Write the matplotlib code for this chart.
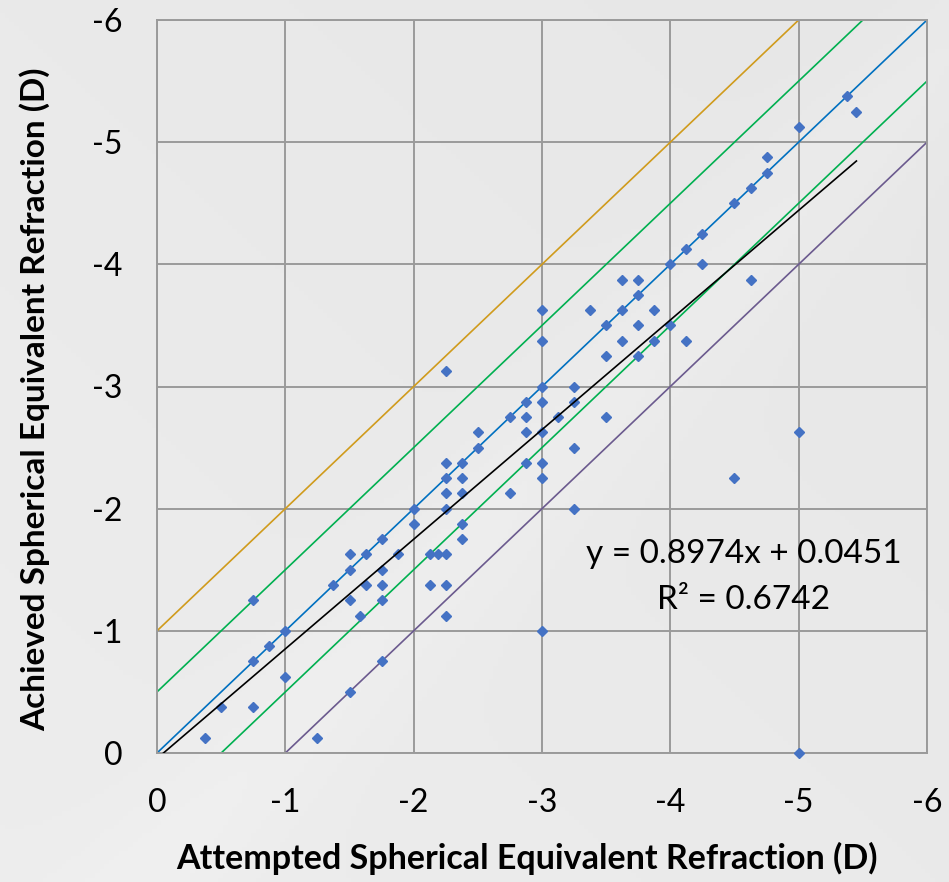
import numpy as np
import matplotlib
matplotlib.use("Agg")
import matplotlib.pyplot as plt
from matplotlib.ticker import FixedLocator, FixedFormatter

plt.rcParams['font.family'] = ['Lato', 'DejaVu Sans']
plt.rcParams['axes.unicode_minus'] = False

# ---- data ----
attempted = [-0.375, -0.5, -0.75, -0.75, -0.75, -0.875, -1, -1, -1.25, -1.5,
             -1.75, -2, -2, -1.75, -1.5, -1.625, -1.875, -1.5, -1.375, -1.625,
             -1.75, -1.75, -1.5, -1.75, -1.58, -2.125, -2.1875, -2.25, -2.125, -2.25,
             -2.25, -2.375, -2.375, -2.25, -2.25, -2.375, -2.25, -2.375, -2.25, -2.375,
             -2.25, -2.5, -2.5, -2.75, -2.75, -2.875, -2.875, -2.875, -2.875, -3,
             -3, -3, -3, -3, -3, -3, -3, -3.125, -3.25, -3.25,
             -3.25, -3.25, -3.375, -3.5, -3.5, -3.5, -3.625, -3.625, -3.625, -3.75,
             -3.75, -3.75, -3.75, -3.875, -3.875, -4, -4, -4.125, -4.125, -4.25,
             -4.25, -4.5, -4.625, -4.75, -4.75, -4.625, -5, -5.375, -5.45, -5,
             -4.5, -5]
achieved = [-0.125, -0.375, -0.375, -0.75, -1.25, -0.875, -1, -0.625, -0.125, -0.5,
            -0.75, -2, -1.875, -1.75, -1.625, -1.625, -1.625, -1.5, -1.375, -1.375,
            -1.375, -1.5, -1.25, -1.25, -1.125, -1.625, -1.625, -1.625, -1.375, -1.375,
            -1.125, -1.875, -1.75, -2, -2.125, -2.125, -2.25, -2.25, -2.375, -2.375,
            -3.125, -2.5, -2.625, -2.75, -2.125, -2.875, -2.75, -2.625, -2.375, -3,
            -2.875, -2.625, -2.375, -2.25, -3.375, -3.625, -1, -2.75, -3, -2.875,
            -2.5, -2, -3.625, -3.5, -3.25, -2.75, -3.875, -3.625, -3.375, -3.875,
            -3.75, -3.5, -3.25, -3.625, -3.375, -4, -3.5, -3.375, -4.125, -4.25,
            -4, -4.5, -4.625, -4.75, -4.875, -3.875, -5.125, -5.375, -5.25, -2.625,
            -2.25, 0]

# reference lines: achieved = attempted + offset
ref_offsets = [-1.0, -0.5, 0.0, 0.5, 1.0]
ref_colors = ['#D09B1C', '#00B050', '#0070C0', '#00B050', '#6B5A8E']

# trendline
slope = 0.8974
intercept = 0.0451
trend_x_range = [0.0, -5.45]
eq_text = "y = 0.8974x + 0.0451"
r2_text = "R\u00b2 = 0.6742"

ticks = [0, -1, -2, -3, -4, -5, -6]
tick_labels = ['0', '-1', '-2', '-3', '-4', '-5', '-6']
xlabel = "Attempted Spherical Equivalent Refraction (D)"
ylabel = "Achieved Spherical Equivalent Refraction (D)"

# ---- figure ----
W, H = 949, 882
fig = plt.figure(figsize=(W / 100, H / 100), dpi=100)
fig.patch.set_facecolor('#E9E9E9')

# subtle background gradient
bg = fig.add_axes([0, 0, 1, 1], zorder=-10)
gx, gy = np.meshgrid(np.linspace(0, 1, 200), np.linspace(0, 1, 200))
grad = 0.5 * gx + 0.5 * (1 - gy)
band = np.exp(-((gx - (1 - gy) * 0.9 - 0.15) ** 2) / 0.01) * 0.6
val = 0.905 + 0.025 * (1 - grad) + 0.02 * band
img = np.dstack([val, val, val])
bg.imshow(img, extent=[0, 1, 0, 1], aspect='auto', origin='upper')
bg.axis('off')

ax = fig.add_axes([157 / W, 1 - 753 / H, (927 - 157) / W, (753 - 20) / H])
ax.set_facecolor('none')

ax.set_xlim(0, -6)
ax.set_ylim(0, -6)

xs = np.array([0.0, -6.0])
for off, col in zip(ref_offsets, ref_colors):
    ax.plot(xs, xs + off, color=col, lw=1.2, zorder=2, clip_on=True)

ax.plot(attempted, achieved, linestyle='none', marker='D', ms=4.6,
        color='#4472C4', mec='#4472C4', zorder=3, clip_on=False)

tx = np.array(trend_x_range)
ax.plot(tx, slope * tx + intercept, color='black', lw=1.2, zorder=4)

ax.xaxis.set_major_locator(FixedLocator(ticks))
ax.xaxis.set_major_formatter(FixedFormatter(tick_labels))
ax.yaxis.set_major_locator(FixedLocator(ticks))
ax.yaxis.set_major_formatter(FixedFormatter(tick_labels))
ax.tick_params(axis='both', length=0, labelsize=23, colors='black')
ax.tick_params(axis='x', pad=25)
ax.tick_params(axis='y', pad=25)

ax.grid(True, color='#9A9A9A', lw=1.4, zorder=1)
ax.set_axisbelow(True)
for s in ax.spines.values():
    s.set_color('#9A9A9A')
    s.set_linewidth(1.4)

fig.text(527 / W, 1 - 858 / H, xlabel, fontsize=24.5, fontweight='bold',
         ha='center', va='center')
fig.text(35 / W, 1 - 399 / H, ylabel, fontsize=24, fontweight='bold',
         ha='center', va='center', rotation=90)

ax.text(-4.57, -1.63, eq_text, fontsize=24, ha='center', va='center', zorder=5)
ax.text(-4.57, -1.25, r2_text, fontsize=24, ha='center', va='center', zorder=5)

fig.savefig('out.png', dpi=100, facecolor=fig.get_facecolor())
